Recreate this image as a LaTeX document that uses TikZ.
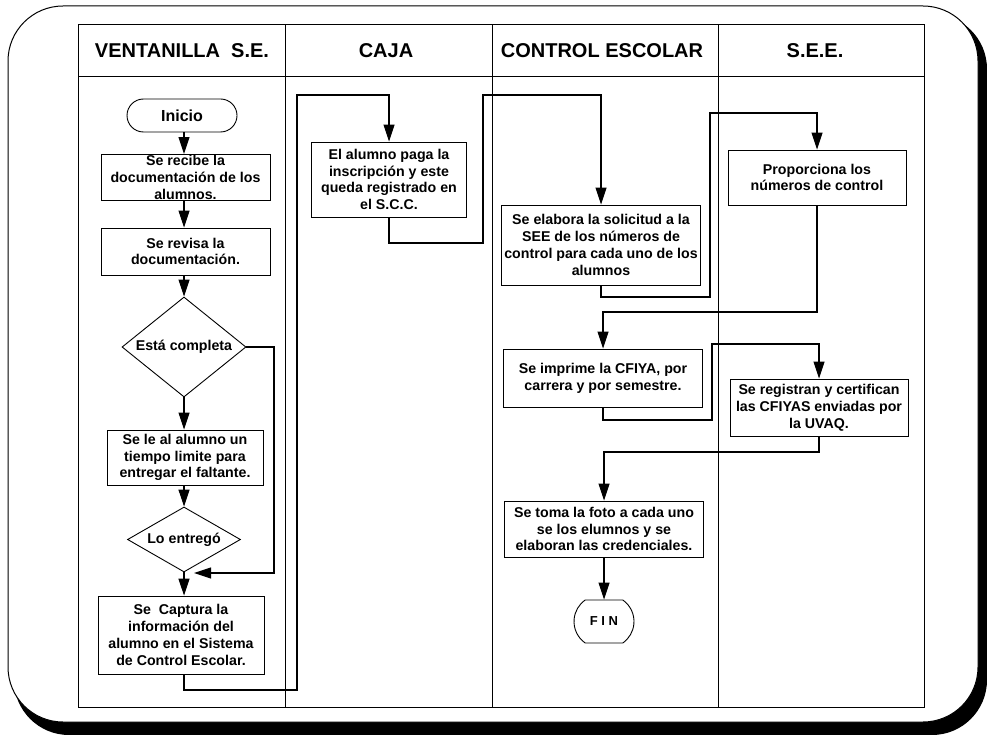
\documentclass[tikz,border=0pt]{standalone}
\usepackage{fontspec}
\setmainfont{Liberation Sans}
\usetikzlibrary{arrows.meta,shapes.geometric,shapes.misc}
\begin{document}
\begin{tikzpicture}[x=1pt,y=-1pt,
  box/.style={draw=black, line width=0.9pt, fill=white, align=center, inner sep=1pt,
    font=\fontsize{14.2}{16.8}\selectfont\bfseries},
  dec/.style={diamond, draw=black, line width=0.9pt, fill=white, align=center, inner sep=0pt,
    font=\fontsize{14.2}{16.8}\selectfont\bfseries},
  term/.style={rounded rectangle, draw=black, line width=0.9pt, fill=white, inner sep=1pt},
  arr/.style={line width=1.1pt, -{Triangle[length=17pt,width=11pt]}},
  hdr/.style={font=\fontsize{20}{24}\selectfont\bfseries, inner sep=0pt}]
\useasboundingbox (0,0) rectangle (987,735);
% outer frame with shadow
\fill[black, rounded corners=55pt] (14,14) rectangle (987,735);
\filldraw[fill=white, draw=black, line width=1pt, rounded corners=55pt] (8,6) rectangle (978,722);
% lanes
\draw[line width=1pt] (78,25) rectangle (924,707);
\draw[line width=1pt] (78,77) -- (924,77);
\foreach \x in {285,492,718} \draw[line width=1pt] (\x,25) -- (\x,707);
\node[hdr] (h1) at (182,51) {VENTANILLA\ \ S.E.};
\node[hdr] (h2) at (386,51) {CAJA};
\node[hdr] (h3) at (602,51) {CONTROL ESCOLAR};
\node[hdr] (h4) at (815,51) {S.E.E.};
% left lane
\node[term, minimum width=112pt, minimum height=33pt, font=\fontsize{16}{18}\selectfont\bfseries] (ini) at (182,115.5) {Inicio};
\node[box, minimum width=169pt, minimum height=45pt] (rec) at (185.5,177.5) {Se recibe la\\documentación de los\\alumnos.};
\node[box, minimum width=169pt, minimum height=47pt] (rev) at (185.5,251.5) {Se revisa la\\documentación.};
\node[dec, aspect=1.24, minimum width=124pt, minimum height=100pt] (d1) at (184,347) {Está completa};
\node[box, minimum width=156pt, minimum height=55pt] (tie) at (185,457.5) {Se le al alumno un\\tiempo limite para\\entregar el faltante.};
\node[dec, aspect=1.74, minimum width=113pt, minimum height=65pt] (d2) at (184,539.5) {Lo entregó};
\node[box, minimum width=166pt, minimum height=78pt] (capt) at (181,635) {Se\ \ Captura la\\información del\\alumno en el Sistema\\de Control Escolar.};
% caja
\node[box, minimum width=155pt, minimum height=75pt] (caja) at (389,179.5) {El alumno paga la\\inscripción y este\\queda registrado en\\el S.C.C.};
% control escolar
\node[box, minimum width=199pt, minimum height=80pt] (sol) at (601,245) {Se elabora la solicitud a la\\SEE de los números de\\control para cada uno de los\\alumnos};
\node[box, minimum width=199pt, minimum height=58pt] (imp) at (603,378) {Se imprime la CFIYA, por\\carrera y por semestre.};
\node[box, minimum width=199pt, minimum height=56pt] (foto) at (604,529) {Se toma la foto a cada uno\\se los elumnos y se\\elaboran las credenciales.};
\node[term, rounded rectangle arc length=110, minimum width=62pt, minimum height=43pt, font=\fontsize{13}{15}\selectfont\bfseries] (fin) at (604,621.5) {F I N};
% S.E.E.
\node[box, minimum width=178pt, minimum height=55pt] (prop) at (817,177.5) {Proporciona los\\números de control};
\node[box, minimum width=178pt, minimum height=57pt] (reg) at (819,407.5) {Se registran y certifican\\las CFIYAS enviadas por\\la UVAQ.};
% bend points
\coordinate (k1) at (297,690);
\coordinate (k2) at (297,95);
\coordinate (k3) at (483,243);
\coordinate (k4) at (483,95);
\coordinate (k5) at (710,297);
\coordinate (k6) at (710,113);
\coordinate (k7) at (0,312);
\coordinate (k8) at (712,420);
\coordinate (k9) at (712,344);
\coordinate (k10) at (0,452);
\coordinate (k11) at (274,573);
\coordinate (k12) at (194,573);
% left lane flow
\draw[arr] (ini.south -| 184,0) -- (rec.north -| 184,0);
\draw[arr] (rec.south -| 184,0) -- (rev.north -| 184,0);
\draw[arr] (rev.south -| d1.north) -- (d1.north);
\draw[arr] (d1.south) -- (d1.south |- tie.north);
\draw[arr] (d1.south |- tie.south) -- (d2.north);
\draw[arr] (d2.south) -- (d2.south |- capt.north);
\draw[arr] (d1.east) -| (k11) -- (k12);
% cross-lane connectors
\draw[arr] (capt.south -| d2.south) |- (k1) -- (k2) -| (caja.north);
\draw[arr] (caja.south) |- (k3) -- (k4) -| (sol.north);
\draw[arr] (sol.south) |- (k5) -- (k6) -| (prop.north);
\draw[arr] (prop.south) -- (prop.south |- k7) -| (imp.north);
\draw[arr] (imp.south) |- (k8) -- (k9) -| (reg.north);
\draw[arr] (reg.south) -- (reg.south |- k10) -| (foto.north);
\draw[arr] (foto.south) -- (fin.north);
\end{tikzpicture}
\end{document}
